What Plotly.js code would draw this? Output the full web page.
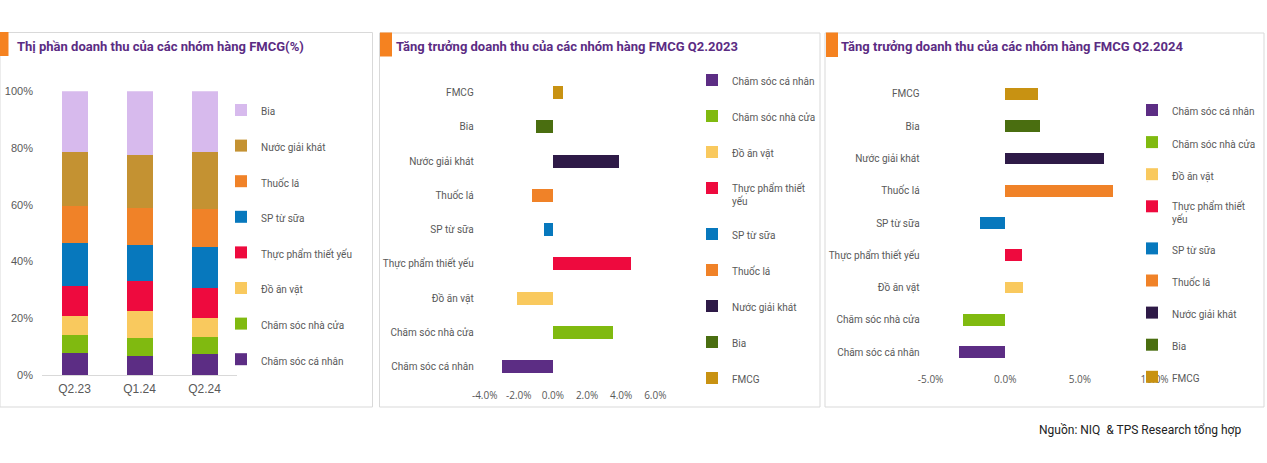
<!DOCTYPE html>
<html>
<head>
<meta charset="utf-8">
<script src="https://cdn.plot.ly/plotly-3.0.1.min.js"></script>
<style>
html,body{margin:0;padding:0;background:#fff;}
#chart{width:1267px;height:463px;}
</style>
</head>
<body>
<div id="chart"></div>
<script>
// ---------- DATA ----------
const quarters = ["Q2.23", "Q1.24", "Q2.24"];
const categories = ["Chăm sóc cá nhân", "Chăm sóc nhà cửa", "Đồ ăn vặt", "Thực phẩm thiết yếu",
  "SP từ sữa", "Thuốc lá", "Nước giải khát", "Bia", "FMCG"];
const shareCategories = ["Chăm sóc cá nhân", "Chăm sóc nhà cửa", "Đồ ăn vặt", "Thực phẩm thiết yếu",
  "SP từ sữa", "Thuốc lá", "Nước giải khát", "Bia"];
// market share (%) per quarter, one array per category (bottom to top of the stack)
const shareChamSocCaNhan = [7.6, 6.8, 7.3];
const shareChamSocNhaCua = [6.6, 6.1, 6.2];
const shareDoAnVat = [6.7, 9.5, 6.7];
const shareThucPhamThietYeu = [10.4, 10.6, 10.4];
const shareSPTuSua = [15.3, 12.9, 14.5];
const shareThuocLa = [13.0, 13.0, 13.4];
const shareNuocGiaiKhat = [19.1, 18.8, 20.2];
const shareBia = [21.3, 22.3, 21.3];
// revenue growth (%) by category, same order as `categories`
const growthQ2_2023 = [-3.0, 3.5, -2.1, 4.6, -0.5, -1.2, 3.9, -1.0, 0.6];
const growthQ2_2024 = [-3.1, -2.8, 1.2, 1.1, -1.7, 7.2, 6.6, 2.3, 2.2];
const titles = ["Thị phần doanh thu của các nhóm hàng FMCG(%)",
  "Tăng trưởng doanh thu của các nhóm hàng FMCG Q2.2023",
  "Tăng trưởng doanh thu của các nhóm hàng FMCG Q2.2024"];
const sourceText = "Nguồn: NIQ  & TPS Research tổng hợp";
const shareTicks = [0, 20, 40, 60, 80, 100];
const growthTicks2023 = [-4, -2, 0, 2, 4, 6];
const growthTicks2024 = [-5, 0, 5, 10];

// ---------- STYLE ----------
const shareSeries = [shareChamSocCaNhan, shareChamSocNhaCua, shareDoAnVat, shareThucPhamThietYeu,
  shareSPTuSua, shareThuocLa, shareNuocGiaiKhat, shareBia];
const colorsShare = ["#5C2D84", "#80BA10", "#F9C95E", "#EE0A3E", "#0778BD", "#F08228", "#C49232", "#D7BAED"];
const colorsGrowth = ["#5C2D84", "#80BA10", "#F9C95E", "#EE0A3E", "#0778BD", "#F08228", "#2E1A47", "#4A6E10", "#C89212"];
const legendNames = categories.map(c => c === "Thực phẩm thiết yếu" ? "Thực phẩm thiết<br>yếu" : c);

const W = 1267, H = 463;
const px = x => x / W;
const py = y => 1 - y / H;
const labelFont = {family: "Roboto, sans-serif", size: 10, color: "#595959"};

const traces = [];
shareCategories.forEach((name, i) => {
  traces.push({
    type: "bar", name: name, x: quarters, y: shareSeries[i],
    xaxis: "x", yaxis: "y", width: 0.4,
    marker: {color: colorsShare[i], line: {width: 0}},
    legend: "legend", legendgroup: "p1" + i, legendrank: 100 - i, hoverinfo: "skip"
  });
});
categories.forEach((name, i) => {
  traces.push({
    type: "bar", orientation: "h", name: legendNames[i], y: [name], x: [growthQ2_2023[i]],
    xaxis: "x2", yaxis: "y2", width: 0.38,
    marker: {color: colorsGrowth[i], line: {width: 0}},
    legend: "legend2", legendgroup: "p2" + i, legendrank: 100 + i, hoverinfo: "skip"
  });
});
categories.forEach((name, i) => {
  traces.push({
    type: "bar", orientation: "h", name: legendNames[i], y: [name], x: [growthQ2_2024[i]],
    xaxis: "x3", yaxis: "y3", width: 0.36,
    marker: {color: colorsGrowth[i], line: {width: 0}},
    legend: "legend3", legendgroup: "p3" + i, legendrank: 100 + i, hoverinfo: "skip"
  });
});

const pctText = v => v.toFixed(1) + "%";

const shapes = [
  // panel frames
  {type: "rect", xref: "paper", yref: "paper", x0: px(0), x1: px(372.5), y0: py(407), y1: py(32.5), line: {color: "#D9D9D9", width: 1}, layer: "below"},
  {type: "rect", xref: "paper", yref: "paper", x0: px(379.5), x1: px(820), y0: py(407), y1: py(33), line: {color: "#D9D9D9", width: 1}, layer: "below"},
  {type: "rect", xref: "paper", yref: "paper", x0: px(825), x1: px(1264), y0: py(407), y1: py(33), line: {color: "#D9D9D9", width: 1}, layer: "below"},
  // orange accents
  {type: "rect", xref: "paper", yref: "paper", x0: px(0), x1: px(8.5), y0: py(56), y1: py(32), fillcolor: "#F58220", line: {width: 0}},
  {type: "rect", xref: "paper", yref: "paper", x0: px(380), x1: px(392), y0: py(56.5), y1: py(32.5), fillcolor: "#F58220", line: {width: 0}},
  {type: "rect", xref: "paper", yref: "paper", x0: px(826), x1: px(838), y0: py(57), y1: py(32.5), fillcolor: "#F58220", line: {width: 0}}
];

const titleFont = {family: "Roboto, sans-serif", size: 13, color: "#5B2C83", weight: "bold"};
const annotations = [
  {text: "<b>" + titles[0] + "</b>", x: px(15), y: py(46), xref: "paper", yref: "paper", xanchor: "left", yanchor: "middle", showarrow: false, font: titleFont},
  {text: "<b>" + titles[1] + "</b>", x: px(394), y: py(46.5), xref: "paper", yref: "paper", xanchor: "left", yanchor: "middle", showarrow: false, font: titleFont},
  {text: "<b>" + titles[2] + "</b>", x: px(838.5), y: py(46.5), xref: "paper", yref: "paper", xanchor: "left", yanchor: "middle", showarrow: false, font: titleFont},
  {text: sourceText, x: px(1037), y: py(430), xref: "paper", yref: "paper", xanchor: "left", yanchor: "middle", showarrow: false,
    font: {family: "Roboto, sans-serif", size: 12, color: "#222222"}}
];

const legendBase = {
  xanchor: "left", yanchor: "top", orientation: "v", bgcolor: "rgba(0,0,0,0)", borderwidth: 0,
  font: labelFont, valign: "top", itemclick: false, itemdoubleclick: false, traceorder: "grouped"
};

const layout = {
  width: W, height: H,
  margin: {l: 0, r: 0, t: 0, b: 0},
  paper_bgcolor: "#ffffff", plot_bgcolor: "rgba(0,0,0,0)",
  barmode: "stack",
  showlegend: true,
  font: labelFont,
  xaxis: {domain: [px(42), px(237)], anchor: "y", showline: true, linecolor: "#D9D9D9", linewidth: 1,
    ticks: "", showgrid: false, zeroline: false, fixedrange: true, ticklabelstandoff: 3,
    tickfont: {family: "Liberation Sans, Arial, sans-serif", size: 12, color: "#595959"}},
  yaxis: {domain: [py(375), py(91.3)], anchor: "x", range: [0, 100], tickmode: "array", tickvals: shareTicks,
    ticktext: shareTicks.map(v => v + "%"), showgrid: false, zeroline: false, showline: false, ticks: "",
    fixedrange: true, ticklabelstandoff: 8,
    tickfont: {family: "Liberation Sans, Arial, sans-serif", size: 11, color: "#595959"}},
  xaxis2: {domain: [px(484.7), px(655.3)], anchor: "y2", range: [-4, 6], tickmode: "array",
    tickvals: growthTicks2023, ticktext: growthTicks2023.map(pctText),
    showgrid: false, zeroline: false, showline: false, ticks: "", fixedrange: true, ticklabelstandoff: 4,
    tickfont: {family: "Open Sans, sans-serif", size: 10, color: "#595959"}},
  yaxis2: {domain: [py(383.8), py(75.6)], anchor: "x2", type: "category", categoryorder: "array",
    categoryarray: categories, showgrid: false, zeroline: false, showline: false, ticks: "",
    fixedrange: true, ticklabelstandoff: 10, tickfont: labelFont},
  xaxis3: {domain: [px(930.6), px(1154.6)], anchor: "y3", range: [-5, 10], tickmode: "array",
    tickvals: growthTicks2024, ticktext: growthTicks2024.map(pctText),
    showgrid: false, zeroline: false, showline: false, ticks: "", fixedrange: true, ticklabelstandoff: 4,
    tickfont: {family: "Open Sans, sans-serif", size: 10, color: "#595959"}},
  yaxis3: {domain: [py(368.2), py(77.8)], anchor: "x3", type: "category", categoryorder: "array",
    categoryarray: categories, showgrid: false, zeroline: false, showline: false, ticks: "",
    fixedrange: true, ticklabelstandoff: 10, tickfont: labelFont},
  legend: Object.assign({}, legendBase, {x: px(221), y: py(97), tracegroupgap: 16.6}),
  legend2: Object.assign({}, legendBase, {x: px(692), y: py(67), tracegroupgap: 17}),
  legend3: Object.assign({}, legendBase, {x: px(1132), y: py(97), tracegroupgap: 13.1}),
  shapes: shapes,
  annotations: annotations
};

Plotly.newPlot("chart", traces, layout, {displayModeBar: false, staticPlot: true});
</script>
</body>
</html>
